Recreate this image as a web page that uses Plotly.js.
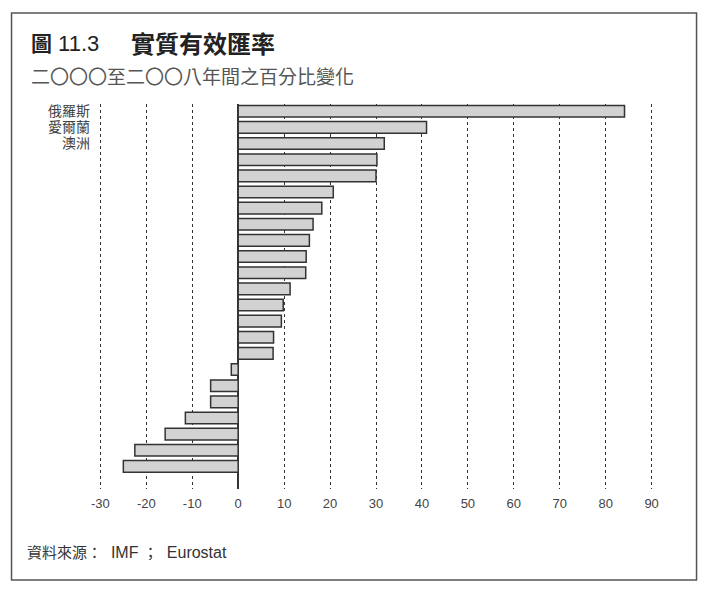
<!DOCTYPE html>
<html>
<head>
<meta charset="utf-8">
<script src="https://cdn.plot.ly/plotly-3.0.1.min.js"></script>
<style>
html,body{margin:0;padding:0;background:#fff;}
#chart{width:713px;height:590px;}
</style>
</head>
<body>
<div id="chart"></div>
<script>
// Percentage change of real effective exchange rate, 2000-2008 (sorted, top to bottom)
const values = [84.1, 41.0, 31.8, 30.2, 30.0, 20.7, 18.2, 16.3, 15.5, 14.8, 14.7, 11.3, 9.8, 9.4, 7.7, 7.6, -1.5, -6.0, -6.0, -11.5, -15.9, -22.5, -25.0];
const labelledCountries = ["俄羅斯", "愛爾蘭", "澳洲"];
const xTickVals = [-30, -20, -10, 0, 10, 20, 30, 40, 50, 60, 70, 80, 90];
const xTickText = ["-30", "-20", "-10", "0", "10", "20", "30", "40", "50", "60", "70", "80", "90"];
const figureNo = "圖";
const figureNum = "11.3";
const titleText = "實質有效匯率";
const subtitleText = "二〇〇〇至二〇〇八年間之百分比變化";
const sourceLabel = "資料來源：";
const sourceA = "IMF";
const sourceB = "Eurostat";

const positions = values.map((v, i) => i);
const CJK = "'Noto Sans CJK TC', 'Noto Sans', sans-serif";
const NUM = "'Liberation Sans Narrow', 'Liberation Sans', Arial, sans-serif";
const NB = "\u00a0";
const latin = (t, size) => "<span style=\"font-family:'Liberation Sans';font-size:" + size + "px\">" + t + "</span>";

const trace = {
  type: "bar",
  orientation: "h",
  x: values,
  y: positions,
  width: 0.72,
  marker: { color: "#d2d2d2", line: { color: "#333333", width: 1.5 } },
  hoverinfo: "x"
};

const layout = {
  width: 713,
  height: 590,
  margin: { l: 98.6, r: 59.6, t: 104, b: 101, pad: 0 },
  paper_bgcolor: "#ffffff",
  plot_bgcolor: "#ffffff",
  showlegend: false,
  xaxis: {
    range: [-30.3, 90.3],
    tickvals: xTickVals,
    ticktext: xTickText,
    showgrid: true,
    gridcolor: "#333333",
    gridwidth: 1,
    griddash: "dot",
    zeroline: true,
    zerolinecolor: "#333333",
    zerolinewidth: 1.5,
    showline: false,
    ticks: "",
    ticklabelstandoff: 5,
    tickfont: { family: NUM, size: 13, color: "#444444" },
    fixedrange: true
  },
  yaxis: {
    range: [23.4, -0.45],
    tickvals: [0, 1, 2],
    ticktext: labelledCountries,
    showgrid: false,
    zeroline: false,
    showline: false,
    ticks: "",
    ticklabelstandoff: 8,
    tickfont: { family: CJK, size: 14, color: "#444444" },
    fixedrange: true
  },
  shapes: [
    {
      type: "rect", xref: "paper", yref: "paper",
      x0: -0.1579, x1: 1.0786, y0: -0.2364, y1: 1.2364,
      line: { color: "#555555", width: 1.5 }, fillcolor: "rgba(0,0,0,0)", layer: "below"
    }
  ],
  annotations: [
    {
      text: "<b>" + figureNo + "</b>" + latin(NB + figureNum, 22),
      xref: "paper", yref: "paper", x: -0.126, y: 1.161,
      xanchor: "left", yanchor: "middle", showarrow: false,
      font: { family: CJK, size: 21, color: "#222222" }
    },
    {
      text: "<b>" + titleText + "</b>", xref: "paper", yref: "paper", x: 0.0548, y: 1.161,
      xanchor: "left", yanchor: "middle", showarrow: false,
      font: { family: CJK, size: 24, color: "#222222" }
    },
    {
      text: subtitleText, xref: "paper", yref: "paper", x: -0.126, y: 1.0753,
      xanchor: "left", yanchor: "middle", showarrow: false,
      font: { family: CJK, size: 19, color: "#555555" }
    },
    {
      text: sourceLabel + latin(NB + NB + sourceA + NB, 16) + "；" + latin(NB + NB + sourceB, 16),
      xref: "paper", yref: "paper", x: -0.1327, y: -0.1636,
      xanchor: "left", yanchor: "middle", showarrow: false,
      font: { family: CJK, size: 15, color: "#333333" }
    }
  ]
};

Plotly.newPlot("chart", [trace], layout, { displayModeBar: false, staticPlot: true });
</script>
</body>
</html>
